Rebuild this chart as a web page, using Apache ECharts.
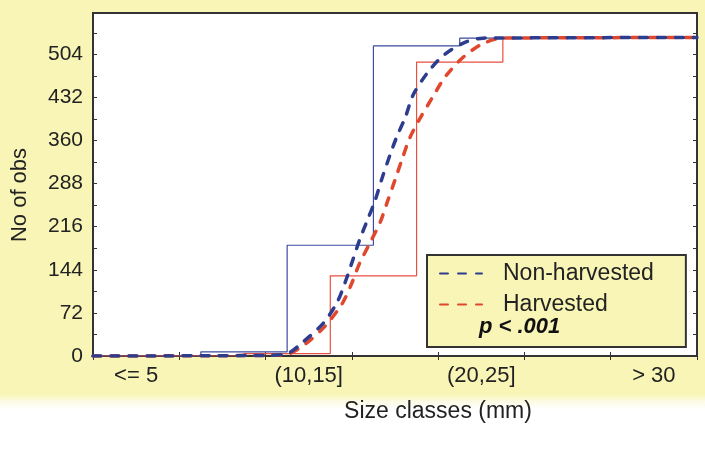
<!DOCTYPE html>
<html><head><meta charset="utf-8">
<script src="https://cdn.jsdelivr.net/npm/echarts@6/dist/echarts.min.js"></script>
<style>
html,body{margin:0;padding:0;background:#fff}
#c{width:705px;height:453px;background:linear-gradient(#f8f5b6 0px,#f8f5b6 394px,#fdfce8 402px,#ffffff 410px)}
</style>
</head><body><div id="c"></div>
<script>
// Size classes (categories)
const categories = ['<= 5', '(5,10]', '(10,15]', '(15,20]', '(20,25]', '(25,30]', '> 30'];
// Cumulative observed counts per size class (step lines)
const nonHarvestedCum = [0, 7, 185, 518, 531, 531, 531];
const harvestedCum = [0, 4, 134, 491, 531, 531, 531];
// Fitted cumulative curves: [position in class units, count]
const nonHarvestedFit = [[0,0],[2.0,1],[2.25,4],[2.43,23],[2.67,55],[2.83,90],[2.92,122],[3.01,160],[3.09,194],[3.18,227],[3.27,260],[3.35,297],[3.44,335],[3.52,366],[3.62,399],[3.71,436],[3.87,472],[4.06,502],[4.31,524],[4.52,531],[7,532]];
const harvestedFit = [[0,0],[2.0,1],[2.25,3],[2.46,20],[2.69,50],[2.89,88],[3.00,122],[3.09,155],[3.21,189],[3.33,224],[3.41,257],[3.50,294],[3.59,332],[3.67,364],[3.79,397],[3.93,431],[4.08,466],[4.29,499],[4.52,522],[4.75,531],[7,532]];
const yTickLabels = [0, 72, 144, 216, 288, 360, 432, 504];

function stepPoints(cum, offset) {
  const pts = [[0, cum[0]]];
  cum.forEach((v, i) => pts.push([i + offset, v]));
  pts.push([categories.length, cum[cum.length - 1]]);
  return pts;
}

const BLUE = '#2c3c8e', RED = '#e0472c';
const FONT = 'Liberation Sans';
const chart = echarts.init(document.getElementById('c'), null, {renderer: 'canvas'});
chart.setOption({
  backgroundColor: 'transparent',
  animation: false,
  textStyle: {fontFamily: FONT},
  grid: {left: 93, right: 8, top: 13, bottom: 97, show: true, backgroundColor: '#fff', borderColor: '#333', borderWidth: 2},
  xAxis: [
    {type: 'category', data: categories, boundaryGap: true, position: 'bottom',
     axisLine: {show: false},
     axisTick: {show: true, inside: true, length: 4, interval: 0, lineStyle: {color: '#333'}},
     axisLabel: {interval: 1, margin: 9, fontSize: 22, color: '#222', fontFamily: FONT}},
    {type: 'value', min: 0, max: categories.length, interval: 1, position: 'top',
     axisLine: {show: false}, splitLine: {show: false}, axisLabel: {show: false},
     axisTick: {show: true, inside: true, length: 4, lineStyle: {color: '#333'}}}
  ],
  yAxis: [
    {type: 'value', min: 0, max: 573, interval: 36, position: 'left',
     axisLine: {show: false}, splitLine: {show: false},
     axisTick: {show: true, inside: true, length: 4, lineStyle: {color: '#333'}},
     axisLabel: {showMaxLabel: false, margin: 10, fontSize: 21, color: '#222', fontFamily: FONT,
       formatter: v => yTickLabels.indexOf(v) >= 0 ? String(v) : ''}},
    {type: 'value', min: 0, max: 573, interval: 36, position: 'right',
     axisLine: {show: false}, splitLine: {show: false}, axisLabel: {show: false},
     axisTick: {show: true, inside: true, length: 4, lineStyle: {color: '#333'}}}
  ],
  legend: {
    orient: 'vertical', left: 427, top: 255,
    padding: [6, 32, 30, 12], itemGap: 6, itemWidth: 42, itemHeight: 14,
    itemStyle: {opacity: 0},
    backgroundColor: '#f8f5b6', borderColor: '#333', borderWidth: 2,
    textStyle: {fontSize: 23, color: '#222', fontFamily: FONT, padding: [0, 0, 0, 16], lineHeight: 25},
    data: ['Non-harvested', 'Harvested']
  },
  series: [
    {name: 'NH-step', type: 'line', xAxisIndex: 1, yAxisIndex: 0, step: 'end', symbol: 'none',
     data: stepPoints(nonHarvestedCum, 0.25), lineStyle: {color: '#3d4b9e', width: 1.2}, z: 2},
    {name: 'H-step', type: 'line', xAxisIndex: 1, yAxisIndex: 0, step: 'end', symbol: 'none',
     data: stepPoints(harvestedCum, 0.75), lineStyle: {color: '#e85040', width: 1.2}, z: 2},
    {name: 'Non-harvested', type: 'line', xAxisIndex: 1, yAxisIndex: 0, symbol: 'none', smooth: 0.3,
     data: nonHarvestedFit, color: BLUE, lineStyle: {color: BLUE, width: 3.5, type: [8, 10], cap: 'round'}, z: 4},
    {name: 'Harvested', type: 'line', xAxisIndex: 1, yAxisIndex: 0, symbol: 'none', smooth: 0.3,
     data: harvestedFit, color: RED, lineStyle: {color: RED, width: 3.5, type: [8, 10], cap: 'round'}, z: 3}
  ],
  graphic: [
    {type: 'text', left: 479, top: 316, z: 10,
     style: {text: 'p < .001', font: 'italic bold 22px "Liberation Sans"', fill: '#111'}},
    {type: 'text', x: 20, y: 195, rotation: Math.PI / 2, z: 10,
     style: {text: 'No of obs', font: '22px "Liberation Sans"', fill: '#222', align: 'center', verticalAlign: 'middle'}},
    {type: 'text', x: 438, y: 412, z: 10,
     style: {text: 'Size classes (mm)', font: '23px "Liberation Sans"', fill: '#222', align: 'center', verticalAlign: 'middle'}}
  ]
});
</script>
</body></html>
